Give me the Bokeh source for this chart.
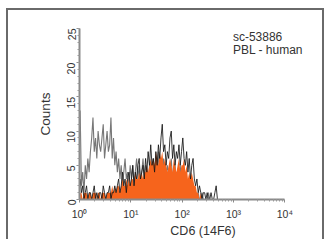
import math
import numpy as np
from bokeh.plotting import figure
from bokeh.models import FixedTicker, Label, Range1d
from bokeh.embed import file_html
from bokeh.resources import INLINE

# histogram channels: 40 bins per decade starting at 10^0
bins_per_decade = 40
control_gray = [13, 2, 4, 1, 5, 3, 6, 4, 7, 9, 12, 7, 9, 6, 10, 8, 7, 9, 11, 6, 8, 10, 7, 8, 12, 6, 9, 5,
                7, 4, 6, 3, 5, 2, 4, 6, 3, 4, 2, 5,
                3, 5, 2, 4, 6, 3, 5, 2, 4, 6, 3, 5, 4, 2, 5, 3,
                4, 6, 3, 5, 4, 7, 3, 5, 4, 6, 3, 4,
                5, 3, 4, 6, 3, 4, 5, 2, 4, 3, 5, 2,
                3, 4, 2, 3, 1, 3, 2, 1, 2, 1, 1, 0,
                1, 0, 0, 1, 0, 0, 0, 0, 1, 0, 0, 0, 0, 0, 0, 0, 0, 0, 0, 0]
sample_black = [3, 1, 2, 0, 1, 2, 0, 1, 1, 0, 1, 2, 0, 1, 0, 1, 1, 0, 2, 1, 0, 1, 1, 2, 0, 1, 1, 2,
                1, 2, 3, 1, 2, 4, 2, 3, 1, 3, 4, 2,
                3, 5, 2, 4, 3, 5, 6, 3, 4, 5, 3, 6, 4, 7, 5, 8,
                5, 6, 4, 7, 5, 8, 6, 9, 11, 7, 8, 5,
                7, 6, 9, 10, 6, 8, 5, 7, 6, 8, 5, 7,
                9, 6, 5, 7, 4, 6, 3, 5, 6, 3, 2, 3,
                1, 2, 1, 0, 1, 1, 0, 1, 0, 0, 1, 0, 0, 1, 2, 0, 0, 0, 0, 0]
sample_orange = [1, 1, 0, 1, 1, 1, 0, 1, 1, 0, 1, 1, 1, 0, 1, 1, 0, 1, 1, 1, 0, 1, 1, 1, 1, 2, 1, 2,
                 1, 2, 2, 1, 2, 3, 2, 2, 3, 2, 3, 2,
                 3, 3, 2, 4, 3, 3, 4, 3, 4, 3, 4, 4, 5, 4, 5, 6,
                 5, 6, 5, 7, 6, 5, 7, 6, 7, 5, 6, 5,
                 4, 5, 6, 5, 4, 6, 5, 4, 5, 6, 4, 5,
                 5, 6, 4, 5, 3, 4, 3, 4, 3, 2, 2, 1,
                 1, 0, 1, 0, 0, 0, 0, 0, 0, 0, 0, 0, 0, 0, 0, 0, 0, 0, 0, 0]
x_ticks = [1, 10, 100, 1000, 10000]
x_tick_labels = ["10⁰", "10¹", "10²", "10³", "10⁴"]
y_ticks = [0, 5, 10, 15, 20, 25]
annotation = ["sc-53886", "PBL - human"]

assert len(control_gray) == len(sample_black) == len(sample_orange), (
    len(control_gray), len(sample_black), len(sample_orange))

centers = 10 ** ((np.arange(len(control_gray)) + 0.5) / bins_per_decade)

FONT = "Liberation Sans, Arial, sans-serif"
NARROW = "Liberation Sans Narrow, Arial Narrow, Liberation Sans, sans-serif"

W, H = 314, 229
left_b, right_b, top_b, bot_b = 71, 0, 18, 42
axis_px = 202  # pixels for 4 decades
x_end = 10 ** (4 * (W - left_b - right_b) / axis_px)

p = figure(width=W, height=H, x_axis_type="log", output_backend="svg",
           toolbar_location=None, x_range=Range1d(1, x_end), y_range=Range1d(0, 25),
           min_border_left=left_b, min_border_right=right_b, min_border_top=top_b,
           min_border_bottom=bot_b)
p.styles = {"margin-left": "6px", "margin-top": "8px",
            "border-left": "2px solid #6a6a6a", "border-top": "2px solid #6a6a6a",
            "border-right": "2px solid #6a6a6a", "box-sizing": "content-box"}
p.outline_line_color = None
p.grid.visible = False
p.background_fill_color = "white"
p.border_fill_color = "white"

p.line(centers, control_gray, line_color="#777777", line_width=1.1)
p.varea(x=centers, y1=0, y2=sample_orange, fill_color="#f6641c")
p.line(centers, sample_black, line_color="#151515", line_width=1.0, line_alpha=0.85)

xa = p.xaxis[0]
xa.bounds = (1, 10000)
xa.ticker = FixedTicker(ticks=x_ticks, minor_ticks=[v * k for v in [1, 10, 100, 1000] for k in range(2, 10)])
xa.major_label_overrides = {v: s for v, s in zip(x_ticks, x_tick_labels)}
xa.axis_label = "CD6 (14F6)"
ya = p.yaxis[0]
ya.ticker = FixedTicker(ticks=y_ticks, minor_ticks=list(range(0, 26)))
ya.axis_label = "Counts"
ya.major_label_orientation = math.pi / 2

for ax in (xa, ya):
    ax.axis_line_color = "#8a8a8a"
    ax.axis_line_width = 2
    ax.major_tick_line_color = "#8a8a8a"
    ax.minor_tick_line_color = "#9a9a9a"
    ax.major_tick_in = 0
    ax.major_tick_out = 3
    ax.minor_tick_in = 0
    ax.minor_tick_out = 2
    ax.major_label_text_font = NARROW
    ax.major_label_text_font_size = "10.5px"
    ax.major_label_text_color = "#333333"
    ax.axis_label_text_font = NARROW
    ax.axis_label_text_font_style = "normal"
    ax.axis_label_text_color = "#333333"
xa.axis_label_text_font_size = "12.5px"
ya.axis_label_text_font_size = "13.5px"
xa.major_label_standoff = 5
xa.axis_label_standoff = 1
ya.major_label_standoff = 5
ya.axis_label_standoff = 8

p.add_layout(Label(x=975, y=24.8, text=annotation[0], text_font=FONT, text_font_size="12px",
                   text_color="#333333", text_baseline="top"))
p.add_layout(Label(x=975, y=22.9, text=annotation[1], text_font=FONT, text_font_size="12px",
                   text_color="#333333", text_baseline="top"))

open("out.html", "w").write(file_html(p, INLINE))
